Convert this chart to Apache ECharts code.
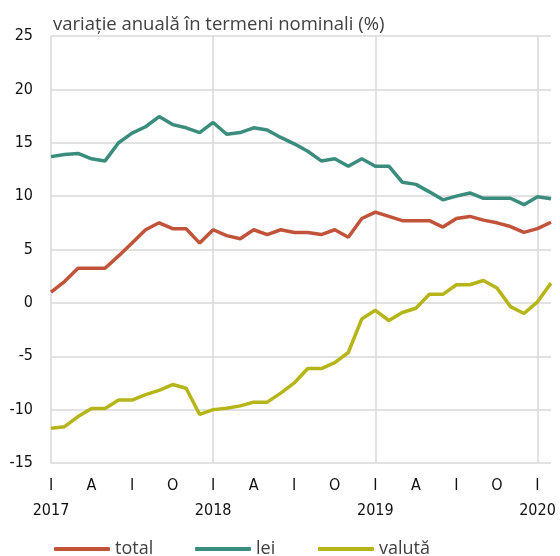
<!DOCTYPE html>
<html>
<head>
<meta charset="utf-8">
<script src="https://cdn.jsdelivr.net/npm/echarts@6/dist/echarts.min.js"></script>
<style>
  html, body { margin: 0; padding: 0; background: #fff; }
  #chart { width: 560px; height: 556px; }
</style>
</head>
<body>
<div id="chart"></div>
<script>
// monthly, Jan 2017 .. Feb 2020
var years = ['2017', '2018', '2019', '2020'];
var monthLetters = { 0: 'I', 3: 'A', 6: 'I', 9: 'O' };

var total = [1.0, 2.0, 3.25, 3.25, 3.25, 4.4, 5.6, 6.85, 7.5, 6.95, 6.95, 5.6,
  6.85, 6.3, 6.0, 6.85, 6.4, 6.85, 6.6, 6.6, 6.4, 6.85, 6.15, 7.9,
  8.5, 8.1, 7.7, 7.7, 7.7, 7.1, 7.9, 8.1, 7.75, 7.5, 7.15, 6.6,
  6.95, 7.55];
var lei = [13.7, 13.9, 14.0, 13.5, 13.3, 15.0, 15.9, 16.5, 17.45, 16.7, 16.4, 15.95,
  16.9, 15.8, 15.95, 16.4, 16.2, 15.5, 14.9, 14.2, 13.3, 13.5, 12.8, 13.5,
  12.8, 12.8, 11.3, 11.1, 10.4, 9.65, 10.0, 10.3, 9.8, 9.8, 9.8, 9.2,
  9.95, 9.75];
var valuta = [-11.75, -11.6, -10.65, -9.9, -9.9, -9.1, -9.1, -8.6, -8.2, -7.65, -8.0, -10.45,
  -10.0, -9.87, -9.65, -9.3, -9.3, -8.45, -7.5, -6.15, -6.15, -5.6, -4.65, -1.5,
  -0.7, -1.65, -0.9, -0.5, 0.8, 0.8, 1.7, 1.7, 2.1, 1.4, -0.35, -1.0,
  0.1, 1.85];

var months = total.map(function (v, i) { return i; });

var colors = { total: '#C0533A', lei: '#3A8C7D', valuta: '#B5B51A' };
// condensed face via the font shorthand (stretch keyword rides along with weight)
var narrow = '"DejaVu Sans", sans-serif';
var narrowWeight = 'normal condensed';
var gridColor = '#d9d9d9';

var chart = echarts.init(document.getElementById('chart'));

function legendAt(name, left) {
  return {
    data: [name],
    left: left,
    top: 535,
    icon: 'roundRect',
    itemWidth: 56,
    itemHeight: 4,
    itemGap: 0,
    textStyle: { fontFamily: '"Open Sans", sans-serif', fontSize: 18, color: '#404040' }
  };
}

chart.setOption({
  animation: false,
  title: {
    text: 'variație anuală în termeni nominali (%)',
    left: 48,
    top: 10,
    textStyle: { fontFamily: '"Open Sans", sans-serif', fontSize: 18.5, fontWeight: 'normal', color: '#404040' }
  },
  legend: [
    legendAt('total', 49),
    legendAt('lei', 190),
    legendAt('valută', 313)
  ],
  grid: { left: 51, right: 9, top: 36, bottom: 93 },
  xAxis: {
    type: 'category',
    data: months,
    boundaryGap: false,
    axisLine: { show: false },
    axisTick: { show: false },
    axisLabel: {
      interval: 0,
      margin: 10,
      fontFamily: narrow,
      fontWeight: narrowWeight,
      fontSize: 16,
      color: '#111',
      lineHeight: 25,
      formatter: function (v, i) {
        var m = i % 12;
        if (!(m in monthLetters)) return '';
        var s = monthLetters[m];
        if (m === 0) s += '\n' + years[i / 12];
        return s;
      }
    },
    splitLine: {
      show: true,
      interval: function (i) { return i % 12 === 0; },
      lineStyle: { color: gridColor, width: 1.5 }
    }
  },
  yAxis: {
    type: 'value',
    min: -15,
    max: 25,
    interval: 5,
    axisLine: { show: false },
    axisTick: { show: false },
    axisLabel: { fontFamily: narrow, fontWeight: narrowWeight, fontSize: 16, color: '#111', margin: 18 },
    splitLine: { lineStyle: { color: gridColor, width: 1.5 } }
  },
  series: [
    { name: 'total', type: 'line', data: total, showSymbol: false, color: colors.total, lineStyle: { width: 3.5 } },
    { name: 'lei', type: 'line', data: lei, showSymbol: false, color: colors.lei, lineStyle: { width: 3.5 } },
    { name: 'valută', type: 'line', data: valuta, showSymbol: false, color: colors.valuta, lineStyle: { width: 3.5 } }
  ]
});
</script>
</body>
</html>
